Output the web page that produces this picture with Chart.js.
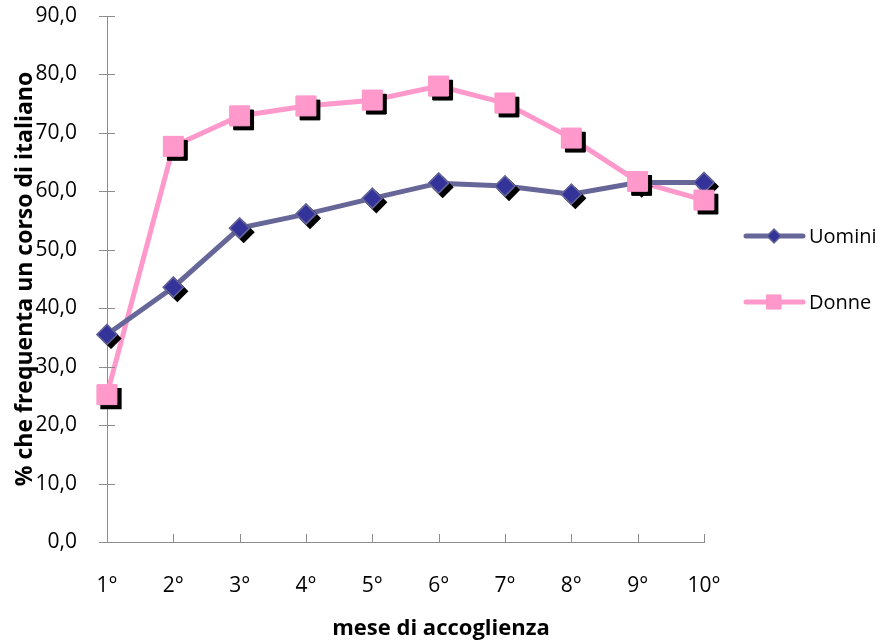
<!DOCTYPE html>
<html>
<head>
<meta charset="utf-8">
<script src="https://cdn.jsdelivr.net/npm/chart.js@4"></script>
<style>
  html, body { margin: 0; padding: 0; background: #ffffff; }
  #wrap { width: 888px; height: 644px; }
</style>
</head>
<body>
<div id="wrap"><canvas id="c" width="888" height="644"></canvas></div>
<script>
// Mesi di accoglienza (asse x)
const mesi = ['1°', '2°', '3°', '4°', '5°', '6°', '7°', '8°', '9°', '10°'];
// % che frequenta un corso di italiano
const uomini = [35.5, 43.6, 53.7, 56.1, 58.8, 61.4, 60.9, 59.5, 61.5, 61.5];
const donne  = [25.2, 67.7, 72.9, 74.6, 75.6, 78.0, 75.1, 69.1, 61.7, 58.5];
const yTicks = [0, 10, 20, 30, 40, 50, 60, 70, 80, 90];
const xTitle = 'mese di accoglienza';

const FONT = "'Open Sans', 'DejaVu Sans', sans-serif";
const AXIS_COL = '#8c8c8c';

// Ombra nera sotto i marcatori, tacche degli assi, titolo x e legenda a destra
const decorPlugin = {
  id: 'decor',
  afterDatasetsDraw(chart) {
    const ctx = chart.ctx;
    const xs = chart.scales.x, ys = chart.scales.y;
    const area = chart.chartArea;

    // tacche asse y (attraversano l'asse)
    ctx.save();
    ctx.strokeStyle = AXIS_COL;
    ctx.lineWidth = 1;
    yTicks.forEach(v => {
      const py = Math.round(ys.getPixelForValue(v)) + 0.5;
      ctx.beginPath();
      ctx.moveTo(area.left - 8, py);
      ctx.lineTo(area.left + 8, py);
      ctx.stroke();
    });
    // tacche asse x (verso l'interno)
    mesi.forEach((m, i) => {
      const px = Math.round(xs.getPixelForValue(i)) + 0.5;
      ctx.beginPath();
      ctx.moveTo(px, area.bottom);
      ctx.lineTo(px, area.bottom - 8);
      ctx.stroke();
    });
    ctx.restore();

    // ombre + ridisegno dei marcatori
    chart.data.datasets.forEach((ds, di) => {
      const meta = chart.getDatasetMeta(di);
      meta.data.forEach(pt => {
        const o = pt.options;
        ctx.save();
        ctx.fillStyle = '#000000';
        ctx.strokeStyle = '#000000';
        Chart.helpers.drawPoint(ctx, {
          pointStyle: o.pointStyle, rotation: 0,
          borderWidth: o.borderWidth, radius: o.radius
        }, pt.x + 4, pt.y + 4);
        ctx.fill();
        ctx.restore();
        pt.draw(ctx, area);
      });
    });

    // titolo asse x, centrato sulla figura
    ctx.save();
    ctx.fillStyle = '#000000';
    ctx.font = 'bold 22px ' + FONT;
    ctx.textAlign = 'center';
    ctx.textBaseline = 'middle';
    ctx.fillText(xTitle, 441, 629);
    ctx.restore();

    // legenda
    const items = [
      { ds: chart.data.datasets[0], y: 236 },
      { ds: chart.data.datasets[1], y: 302 }
    ];
    items.forEach(it => {
      const ds = it.ds;
      ctx.save();
      ctx.strokeStyle = ds.borderColor;
      ctx.lineWidth = ds.borderWidth;
      ctx.lineCap = 'round';
      ctx.beginPath();
      ctx.moveTo(746, it.y);
      ctx.lineTo(803, it.y);
      ctx.stroke();
      ctx.fillStyle = ds.pointBackgroundColor;
      ctx.strokeStyle = ds.pointBorderColor;
      ctx.lineWidth = ds.pointBorderWidth;
      Chart.helpers.drawPoint(ctx, {
        pointStyle: ds.pointStyle, rotation: 0,
        borderWidth: ds.pointBorderWidth, radius: ds.pointStyle === 'rect' ? 10 : 7
      }, 774, it.y);
      ctx.fillStyle = '#000000';
      ctx.font = '20px ' + FONT;
      ctx.textBaseline = 'middle';
      ctx.textAlign = 'left';
      ctx.fillText(ds.label, 809, it.y + 1);
      ctx.restore();
    });
  }
};

new Chart(document.getElementById('c'), {
  type: 'line',
  data: {
    labels: mesi,
    datasets: [
      {
        label: 'Uomini',
        data: uomini,
        borderColor: '#666699',
        borderWidth: 5,
        pointStyle: 'rectRot',
        pointRadius: 10,
        pointBackgroundColor: '#333399',
        pointBorderColor: '#666699',
        pointBorderWidth: 1.5,
        tension: 0
      },
      {
        label: 'Donne',
        data: donne,
        borderColor: '#ff99cc',
        borderWidth: 5,
        pointStyle: 'rect',
        pointRadius: 14,
        pointBackgroundColor: '#ff99cc',
        pointBorderColor: '#ff99cc',
        pointBorderWidth: 1,
        tension: 0
      }
    ]
  },
  options: {
    responsive: false,
    animation: false,
    devicePixelRatio: 1,
    layout: { padding: { top: 16, right: 184, left: 0, bottom: 0 } },
    plugins: { legend: { display: false }, tooltip: { enabled: false } },
    elements: { point: { hoverRadius: 10 } },
    scales: {
      x: {
        type: 'category',
        offset: false,
        grid: { display: false },
        border: { display: true, color: AXIS_COL, width: 1 },
        ticks: { color: '#000', font: { family: FONT, size: 21 }, padding: 23, maxRotation: 0, autoSkip: false },
        afterFit(s) { s.height = 102; s.paddingLeft = 0; s.paddingRight = 0; }
      },
      y: {
        min: 0, max: 90,
        grid: { display: false },
        border: { display: true, color: AXIS_COL, width: 1 },
        afterBuildTicks(s) { s.ticks = yTicks.map(v => ({ value: v })); },
        ticks: {
          color: '#000', font: { family: FONT, size: 21 }, padding: 22,
          callback: v => v.toFixed(1).replace('.', ',')
        },
        title: {
          display: true, text: '% che frequenta un corso di italiano', color: '#000',
          font: { family: FONT, size: 23, weight: 'bold' }, padding: { top: 12, bottom: 0 }
        },
        afterFit(s) { s.width = 107; s.paddingTop = 0; s.paddingBottom = 0; }
      }
    }
  },
  plugins: [decorPlugin]
});
</script>
</body>
</html>
